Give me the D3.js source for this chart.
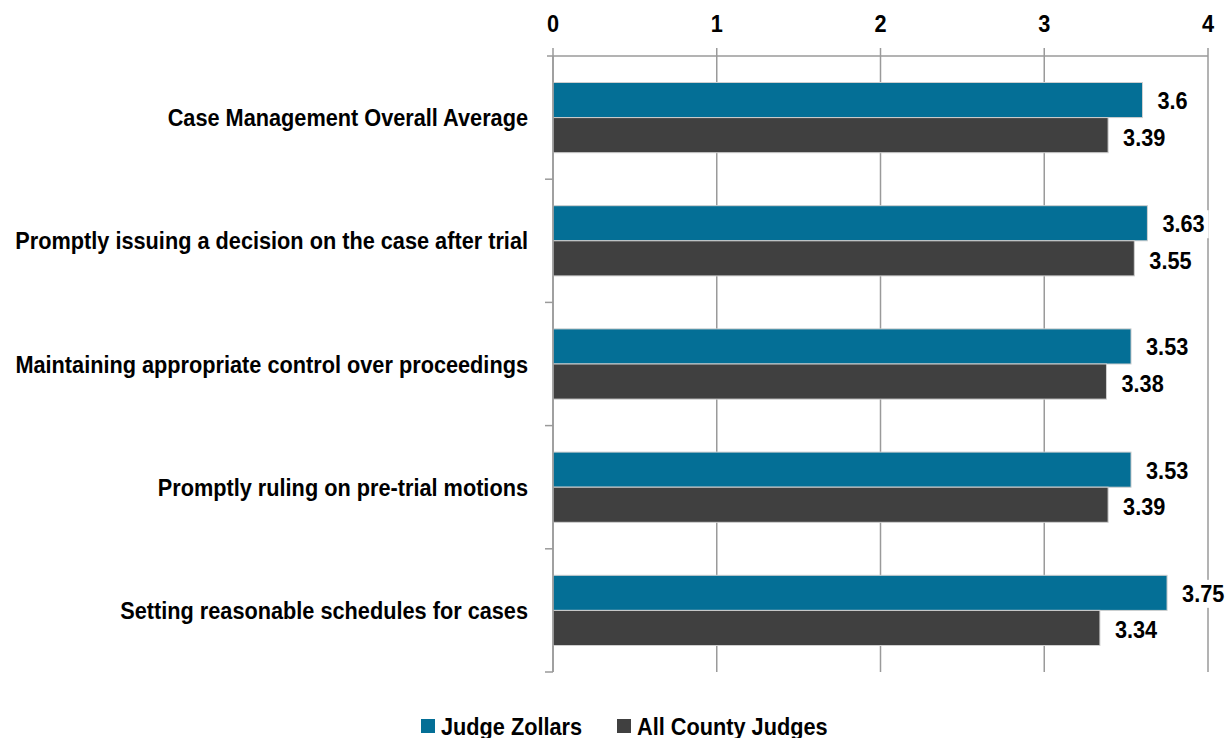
<!doctype html>
<html lang="en">
<head>
<meta charset="utf-8">
<title>Case Management</title>
<script src="https://cdn.jsdelivr.net/npm/d3@7"></script>
<style>
  html, body { margin: 0; padding: 0; background: #fff; }
  svg text { font-family: "Liberation Sans Narrow", "Arial Narrow", "Liberation Sans", Arial, sans-serif; font-weight: bold; fill: #000; font-size: 24px; }
</style>
</head>
<body>
<svg id="chart" width="1228" height="738"></svg>
<script>
var categories = [
  "Case Management Overall Average",
  "Promptly issuing a decision on the case after trial",
  "Maintaining appropriate control over proceedings",
  "Promptly ruling on pre-trial motions",
  "Setting reasonable schedules for cases"
];
var seriesNames = ["Judge Zollars", "All County Judges"];
var judgeZollars = [3.6, 3.63, 3.53, 3.53, 3.75];
var allCountyJudges = [3.39, 3.55, 3.38, 3.39, 3.34];
var tickValues = [0, 1, 2, 3, 4];
var colors = ["#046F96", "#404040"];

var svg = d3.select("#chart");
var plotLeft = 553, plotRight = 1208, plotTop = 56, plotBottom = 672;
var squeeze = 0.905; // no narrow face installed, so squeeze the regular one

var x = d3.scaleLinear().domain([0, 4]).range([plotLeft, plotRight]);
var yOuter = d3.scaleBand().domain(categories).range([plotTop, plotBottom]);
var y = d3.scaleBand().domain(categories).range([plotTop, plotBottom]).paddingInner(0.43).paddingOuter(0.215);
var sub = d3.scaleBand().domain(seriesNames).range([0, y.bandwidth()]);

function label(parent, px, py, str, anchor) {
  return parent.append("text")
    .attr("transform", "translate(" + px + "," + py + ") scale(" + squeeze + ",1)")
    .attr("text-anchor", anchor || "start")
    .text(str);
}

// gridlines + top tick marks
svg.selectAll(".grid").data(tickValues).enter().append("line")
  .attr("x1", function(d) { return x(d); }).attr("x2", function(d) { return x(d); })
  .attr("y1", plotTop - 8).attr("y2", plotBottom)
  .attr("stroke", "#9a9a9a").attr("stroke-width", 1.5);

// top axis line
svg.append("line").attr("x1", plotLeft - 6).attr("x2", plotRight).attr("y1", plotTop).attr("y2", plotTop)
  .attr("stroke", "#9a9a9a").attr("stroke-width", 1.5);

// top tick labels
tickValues.forEach(function(d) { label(svg, x(d), 32, d, "middle"); });

// left category ticks
var bounds = categories.map(function(c) { return yOuter(c) + yOuter.bandwidth(); });
svg.selectAll(".ytick").data(bounds).enter().append("line")
  .attr("x1", plotLeft - 8).attr("x2", plotLeft)
  .attr("y1", function(d) { return d; }).attr("y2", function(d) { return d; })
  .attr("stroke", "#9a9a9a").attr("stroke-width", 1.5);

// category labels
categories.forEach(function(c) {
  label(svg, 528, yOuter(c) + yOuter.bandwidth() / 2 + 8.5, c, "end");
});

var series = [judgeZollars, allCountyJudges];
series.forEach(function(vals, si) {
  var g = svg.append("g");
  g.selectAll("rect").data(vals).enter().append("rect")
    .attr("x", x(0))
    .attr("y", function(d, i) { return y(categories[i]) + sub(seriesNames[si]); })
    .attr("width", function(d) { return x(d) - x(0); })
    .attr("height", sub.bandwidth())
    .attr("fill", colors[si])
    .attr("stroke", "#d0d0d0").attr("stroke-width", 1);
  vals.forEach(function(d, i) {
    var px = x(d) + 15;
    var py = y(categories[i]) + sub(seriesNames[si]) + sub.bandwidth() / 2 + 9 + si * 1.5;
    var bg = g.append("rect").attr("fill", "#fff");
    var t = label(g, px, py, d);
    var w = t.node().getComputedTextLength() * squeeze;
    bg.attr("x", px - 4).attr("y", py - 22).attr("width", w + 8).attr("height", 28);
  });
});

// left axis
svg.append("line").attr("x1", plotLeft).attr("x2", plotLeft).attr("y1", plotTop).attr("y2", plotBottom)
  .attr("stroke", "#9a9a9a").attr("stroke-width", 1.5);

// legend
var legendX = [421, 617];
seriesNames.forEach(function(name, i) {
  svg.append("rect").attr("x", legendX[i]).attr("y", 719).attr("width", 14).attr("height", 14)
    .attr("fill", colors[i]);
  label(svg, legendX[i] + 20, 735, name);
});
</script>
</body>
</html>
